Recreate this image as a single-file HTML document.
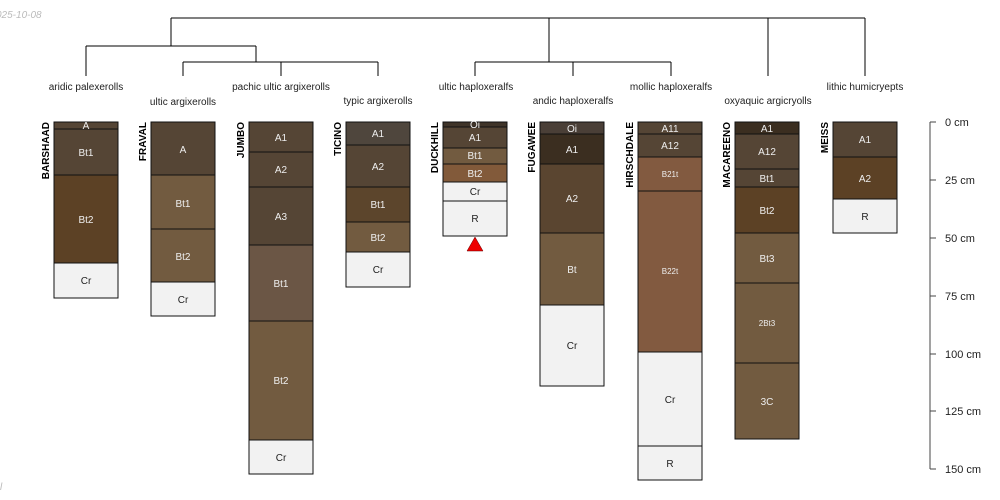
<!DOCTYPE html>
<html><head><meta charset="utf-8"><style>
body{margin:0;background:#fff}
svg{display:block;font-family:"Liberation Sans",sans-serif}
.l{font-size:10px;fill:#222;text-anchor:middle}
.h{font-size:10px;fill:#eee;text-anchor:middle}
.n{font-size:10px;font-weight:bold;fill:#000}
</style></head><body>
<svg width="1000" height="500" viewBox="0 0 1000 500">
<text x="-4" y="18" font-size="10" font-style="italic" fill="#bbb">025-10-08</text>
<text x="0" y="490" font-size="10" font-style="italic" fill="#bbb">l</text>
<g stroke="#000" stroke-width="1" fill="none">
<path d="M171 18H865M171 18V46M549 18V62M768 18V76M865 18V76"/>
<path d="M86 46H256M86 46V76M256 46V62M183 62H378M183 62V76M281 62V76M378 62V76"/>
<path d="M475 62H671M475 62V76M573 62V76M671 62V76"/>
</g>
<g class="l">
<text x="86" y="90">aridic palexerolls</text>
<text x="183" y="105">ultic argixerolls</text>
<text x="281" y="90">pachic ultic argixerolls</text>
<text x="378" y="104">typic argixerolls</text>
<text x="476" y="90">ultic haploxeralfs</text>
<text x="573" y="104">andic haploxeralfs</text>
<text x="671" y="90">mollic haploxeralfs</text>
<text x="768" y="104">oxyaquic argicryolls</text>
<text x="865" y="90">lithic humicryepts</text>
</g>
<g stroke="#111" stroke-width="1">
<!-- BARSHAAD 54 -->
<rect x="54" y="122" width="64" height="7" fill="#554535"/>
<rect x="54" y="129" width="64" height="46" fill="#554535"/>
<rect x="54" y="175" width="64" height="88" fill="#5c4125"/>
<rect x="54" y="263" width="64" height="35" fill="#f2f2f2"/>
<!-- FRAVAL 151 -->
<rect x="151" y="122" width="64" height="53" fill="#554535"/>
<rect x="151" y="175" width="64" height="54" fill="#725b40"/>
<rect x="151" y="229" width="64" height="53" fill="#725b40"/>
<rect x="151" y="282" width="64" height="34" fill="#f2f2f2"/>
<!-- JUMBO 249 -->
<rect x="249" y="122" width="64" height="30" fill="#554535"/>
<rect x="249" y="152" width="64" height="35" fill="#554535"/>
<rect x="249" y="187" width="64" height="58" fill="#554535"/>
<rect x="249" y="245" width="64" height="76" fill="#6b5645"/>
<rect x="249" y="321" width="64" height="119" fill="#725b40"/>
<rect x="249" y="440" width="64" height="34" fill="#f2f2f2"/>
<!-- TICINO 346 -->
<rect x="346" y="122" width="64" height="23" fill="#4f463d"/>
<rect x="346" y="145" width="64" height="42" fill="#554535"/>
<rect x="346" y="187" width="64" height="35" fill="#5c452c"/>
<rect x="346" y="222" width="64" height="30" fill="#725b40"/>
<rect x="346" y="252" width="64" height="35" fill="#f2f2f2"/>
<!-- DUCKHILL 443 -->
<rect x="443" y="122" width="64" height="5" fill="#3f3429"/>
<rect x="443" y="127" width="64" height="21" fill="#554535"/>
<rect x="443" y="148" width="64" height="16" fill="#725b40"/>
<rect x="443" y="164" width="64" height="18" fill="#825a3a"/>
<rect x="443" y="182" width="64" height="19" fill="#f2f2f2"/>
<rect x="443" y="201" width="64" height="35" fill="#f2f2f2"/>
<!-- FUGAWEE 540 -->
<rect x="540" y="122" width="64" height="12" fill="#4a3f37"/>
<rect x="540" y="134" width="64" height="30" fill="#3b2e20"/>
<rect x="540" y="164" width="64" height="69" fill="#5a4530"/>
<rect x="540" y="233" width="64" height="72" fill="#725b40"/>
<rect x="540" y="305" width="64" height="81" fill="#f2f2f2"/>
<!-- HIRSCHDALE 638 -->
<rect x="638" y="122" width="64" height="12" fill="#554535"/>
<rect x="638" y="134" width="64" height="23" fill="#554535"/>
<rect x="638" y="157" width="64" height="34" fill="#825a40"/>
<rect x="638" y="191" width="64" height="161" fill="#825a40"/>
<rect x="638" y="352" width="64" height="94" fill="#f2f2f2"/>
<rect x="638" y="446" width="64" height="34" fill="#f2f2f2"/>
<!-- MACAREENO 735 -->
<rect x="735" y="122" width="64" height="12" fill="#3b2e20"/>
<rect x="735" y="134" width="64" height="35" fill="#554535"/>
<rect x="735" y="169" width="64" height="18" fill="#554535"/>
<rect x="735" y="187" width="64" height="46" fill="#5c4125"/>
<rect x="735" y="233" width="64" height="50" fill="#725b40"/>
<rect x="735" y="283" width="64" height="80" fill="#725b40"/>
<rect x="735" y="363" width="64" height="76" fill="#725b40"/>
<!-- MEISS 833 -->
<rect x="833" y="122" width="64" height="35" fill="#554535"/>
<rect x="833" y="157" width="64" height="42" fill="#5c4125"/>
<rect x="833" y="199" width="64" height="34" fill="#f2f2f2"/>
</g>
<polygon points="475,237 467,251 483,251" fill="#e00" stroke="#600" stroke-width="0.5"/>
<g class="h">
<text x="86" y="129">A</text><text x="86" y="156">Bt1</text><text x="86" y="223">Bt2</text><text x="86" y="284" fill="#222">Cr</text>
<text x="183" y="153">A</text><text x="183" y="207">Bt1</text><text x="183" y="260">Bt2</text><text x="183" y="303" fill="#222">Cr</text>
<text x="281" y="141">A1</text><text x="281" y="173">A2</text><text x="281" y="220">A3</text><text x="281" y="287">Bt1</text><text x="281" y="384">Bt2</text><text x="281" y="461" fill="#222">Cr</text>
<text x="378" y="137">A1</text><text x="378" y="170">A2</text><text x="378" y="208">Bt1</text><text x="378" y="241">Bt2</text><text x="378" y="273" fill="#222">Cr</text>
<text x="475" y="128">Oi</text><text x="475" y="141">A1</text><text x="475" y="159">Bt1</text><text x="475" y="177">Bt2</text><text x="475" y="195" fill="#222">Cr</text><text x="475" y="222" fill="#222">R</text>
<text x="572" y="132">Oi</text><text x="572" y="153">A1</text><text x="572" y="202">A2</text><text x="572" y="273">Bt</text><text x="572" y="349" fill="#222">Cr</text>
<text x="670" y="132">A11</text><text x="670" y="149">A12</text><text x="670" y="177" font-size="8">B21t</text><text x="670" y="274" font-size="8">B22t</text><text x="670" y="403" fill="#222">Cr</text><text x="670" y="467" fill="#222">R</text>
<text x="767" y="132">A1</text><text x="767" y="155">A12</text><text x="767" y="182">Bt1</text><text x="767" y="214">Bt2</text><text x="767" y="262">Bt3</text><text x="767" y="326" font-size="8">2Bt3</text><text x="767" y="405">3C</text>
<text x="865" y="143">A1</text><text x="865" y="182">A2</text><text x="865" y="220" fill="#222">R</text>
</g>
<g class="n">
<text transform="translate(49,122) rotate(-90)" text-anchor="end">BARSHAAD</text>
<text transform="translate(146,122) rotate(-90)" text-anchor="end">FRAVAL</text>
<text transform="translate(244,122) rotate(-90)" text-anchor="end">JUMBO</text>
<text transform="translate(341,122) rotate(-90)" text-anchor="end">TICINO</text>
<text transform="translate(438,122) rotate(-90)" text-anchor="end">DUCKHILL</text>
<text transform="translate(535,122) rotate(-90)" text-anchor="end">FUGAWEE</text>
<text transform="translate(633,122) rotate(-90)" text-anchor="end">HIRSCHDALE</text>
<text transform="translate(730,122) rotate(-90)" text-anchor="end">MACAREENO</text>
<text transform="translate(828,122) rotate(-90)" text-anchor="end">MEISS</text>
</g>
<g stroke="#444" stroke-width="1">
<path d="M930 122V469M930 122H936M930 180H936M930 238H936M930 296H936M930 354H936M930 411H936M930 469H936"/>
</g>
<g font-size="11" fill="#222">
<text x="945" y="126">0 cm</text><text x="945" y="184">25 cm</text><text x="945" y="242">50 cm</text><text x="945" y="300">75 cm</text><text x="945" y="358">100 cm</text><text x="945" y="415">125 cm</text><text x="945" y="473">150 cm</text>
</g>
</svg>
</body></html>
